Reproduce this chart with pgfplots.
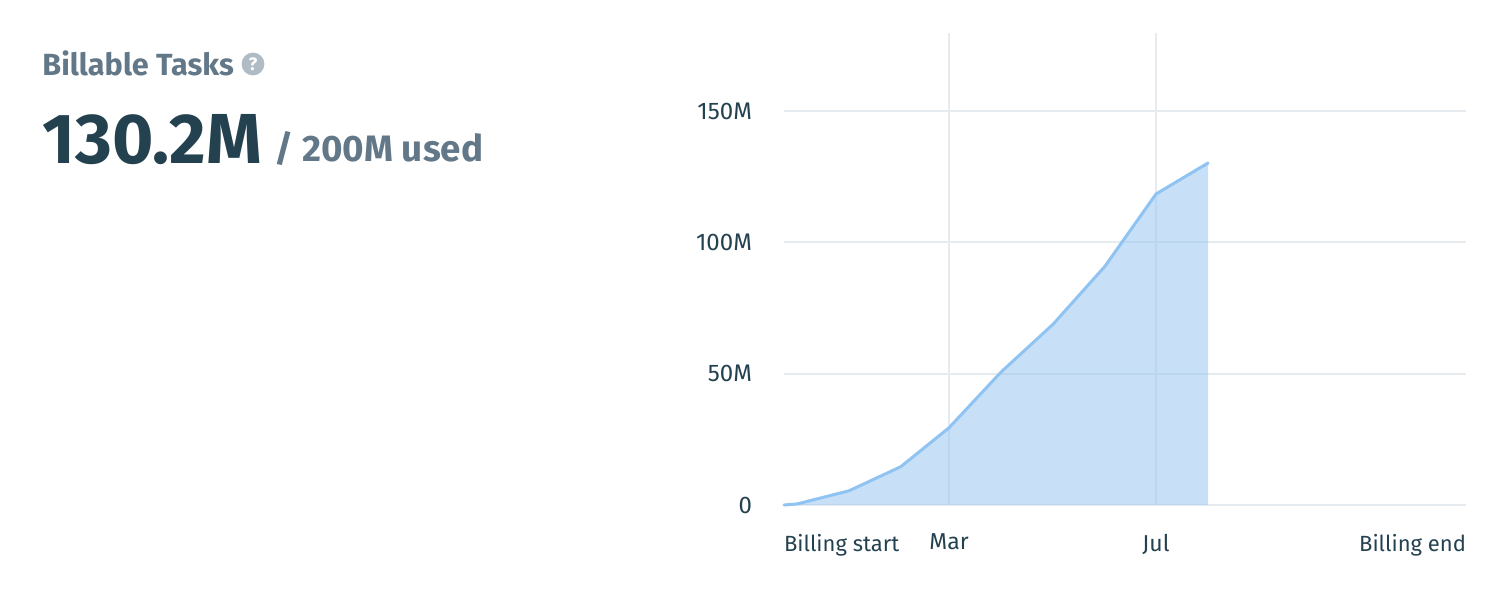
\documentclass[border=0pt]{standalone}
\usepackage{fontspec}
\setmainfont{Fira Sans}
\usepackage{pgfplots}
\pgfplotsset{compat=1.18}
\definecolor{gridc}{HTML}{E6EBF0}
\definecolor{linec}{HTML}{8FC3F2}
\definecolor{fillc}{HTML}{92C2EF}
\definecolor{labelc}{HTML}{24414F}
\definecolor{headc}{HTML}{627888}
\definecolor{iconc}{HTML}{B0BCC5}
\newcommand{\billfont}{\fontsize{11}{13}\selectfont}
% months from Jan = 0, last row is the current total
\pgfplotstableread{
x y
-0.188 0
0.063 0.4
1.068 5.4
2.07 14.6
3 29.4
4.005 50.6
5.01 68.8
6.01 90.8
7 118.4
8.005 130.2
}\tasks
\begin{document}
\begin{tikzpicture}
\path[use as bounding box] (0,0) rectangle (748.5pt,299pt);
\begin{axis}[
  at={(392pt,46.5pt)}, anchor=south west,
  scale only axis, width=341pt, height=236pt,
  xmin=-0.188, xmax=12.99, ymin=0, ymax=179.7,
  axis line style={draw=none},
  tick style={draw=none},
  clip=false,
  axis on top=false,
  grid=major,
  grid style={gridc, line width=1pt},
  xtick={3,7}, xticklabels={Mar,Jul},
  extra x ticks={-0.188,12.99},
  extra x tick labels={\rlap{\billfont Billing start},\llap{\billfont Billing end}},
  ytick={0,50,100,150}, yticklabels={0,50M,100M,150M},
  ticklabel style={text=labelc},
  xticklabel style={font=\fontsize{11.5}{13}\selectfont, yshift=-11pt},
  yticklabel style={font=\fontsize{12}{13}\selectfont, xshift=-12.5pt},
  extra x tick style={grid=none},
]
\addplot[draw=none, fill=fillc, fill opacity=0.5] table[x=x,y=y] {\tasks} -- (axis cs:8.005,0) -- (axis cs:-0.188,0) -- cycle;
\addplot[linec, line width=1.5pt, line join=round, line cap=round] table[x=x,y=y] {\tasks};
\end{axis}
\node[anchor=base west, inner sep=0pt, text=headc, font=\fontsize{15.3}{17}\selectfont\bfseries] at (21pt,261pt) {Billable Tasks};
\fill[iconc] (126.5pt,267pt) circle (5.7pt);
\node[text=white, inner sep=0pt, font=\fontsize{9}{10}\selectfont\bfseries] at (126.5pt,267pt) {?};
\node[anchor=base west, inner sep=0pt, text=labelc, font=\fontsize{35.4}{40}\selectfont\bfseries] at (21pt,217pt) {130.2M};
\node[anchor=base west, inner sep=0pt, text=headc, font=\fontsize{18.4}{20}\selectfont\bfseries] at (137pt,218pt) {/ 200M used};
\end{tikzpicture}
\end{document}
